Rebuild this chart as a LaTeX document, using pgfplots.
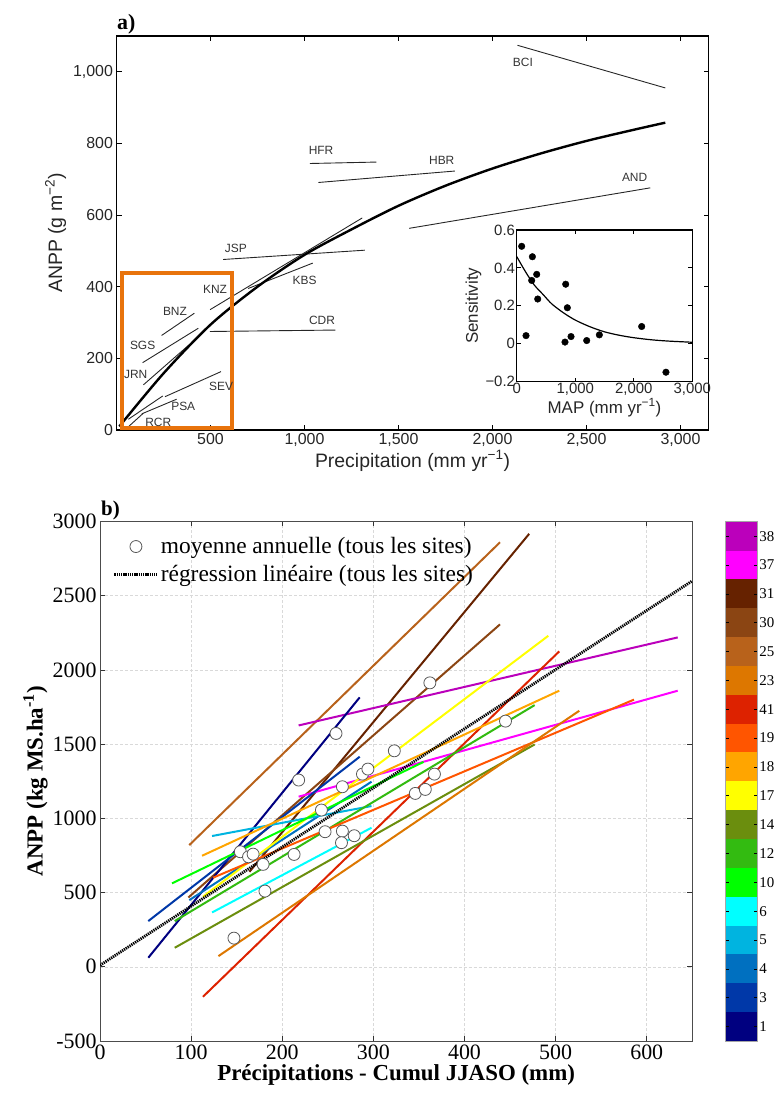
\documentclass[border=0pt]{standalone}
\usepackage{pgfplots}
\pgfplotsset{compat=1.18}
\usepackage{fontspec}
\setmainfont{Liberation Serif}
\newfontfamily\hv{Liberation Sans}
\definecolor{c1}{HTML}{000080}
\definecolor{c3}{HTML}{0038A8}
\definecolor{c4}{HTML}{0070C0}
\definecolor{c5}{HTML}{00B4E0}
\definecolor{c6}{HTML}{00FFFF}
\definecolor{c10}{HTML}{00FF00}
\definecolor{c12}{HTML}{33BB11}
\definecolor{c14}{HTML}{6B8E0E}
\definecolor{c17}{HTML}{FFFF00}
\definecolor{c18}{HTML}{FFA500}
\definecolor{c19}{HTML}{FF5500}
\definecolor{c41}{HTML}{DD2200}
\definecolor{c23}{HTML}{DD7700}
\definecolor{c25}{HTML}{B8621B}
\definecolor{c30}{HTML}{8B4513}
\definecolor{c31}{HTML}{662200}
\definecolor{c37}{HTML}{FF00FF}
\definecolor{c38}{HTML}{BB00BB}
\definecolor{orbox}{HTML}{E8730C}
\pgfplotsset{
  legline/.style={legend image code/.code={\draw[##1] (0bp,0bp) -- (43bp,0bp);}},
  legmark/.style={legend image code/.code={\draw[##1] plot coordinates {(21.5bp,0bp)};}},
}

\begin{document}
\begin{tikzpicture}
\useasboundingbox (0bp,0bp) rectangle (775bp,1097bp);

%================ Panel a =================
\begin{axis}[
  at={(116.5bp,667bp)}, anchor=south west, scale only axis,
  width=592.2bp, height=394bp,
  xmin=0, xmax=3150, ymin=0, ymax=1100,
  xtick={0,500,1000,1500,2000,2500,3000},
  xticklabels={{},500,{1,000},{1,500},{2,000},{2,500},{3,000}},
  ytick={0,200,400,600,800,1000},
  yticklabels={0,200,400,600,800,{1,000}},
  tick align=inside, major tick length=5bp,
  axis line style={line width=1.4bp},
  tick style={line width=1bp, black},
  ticklabel style={font=\hv\fontsize{16}{16}\selectfont, text=black!85},
  xlabel={Precipitation (mm yr\textsuperscript{−1})},
  ylabel={ANPP (g m\textsuperscript{−2})},
  label style={font=\hv\fontsize{19.5}{19.5}\selectfont, text=black!85},
  xlabel style={yshift=3bp},
  clip=false,
]
% site sensitivity lines
\addplot[black!85, line width=0.9bp] coordinates {(2133,1074)(2919,955)};
\addplot[black!85, line width=0.9bp] coordinates {(1028,744)(1382,748)};
\addplot[black!85, line width=0.9bp] coordinates {(1074,691)(1800,723)};
\addplot[black!85, line width=0.9bp] coordinates {(1557,563)(2839,676)};
\addplot[black!85, line width=0.9bp] coordinates {(567,476)(1321,502)};
\addplot[black!85, line width=0.9bp] coordinates {(498,336)(1307,592)};
\addplot[black!85, line width=0.9bp] coordinates {(700,395)(1044,466)};
\addplot[black!85, line width=0.9bp] coordinates {(497,275)(1164,279)};
\addplot[black!85, line width=0.9bp] coordinates {(240,264)(414,326)};
\addplot[black!85, line width=0.9bp] coordinates {(139,188)(435,284)};
\addplot[black!85, line width=0.9bp] coordinates {(143,126)(391,240)};
\addplot[black!85, line width=0.9bp] coordinates {(258,93)(556,163)};
\addplot[black!85, line width=0.9bp] coordinates {(134,45)(320,86)};
\addplot[black!85, line width=0.9bp] coordinates {(63,30)(246,95)};
\addplot[black!85, line width=0.9bp] coordinates {(63,9)(143,47)};
% overall curve
\addplot[black, line width=2.4bp, smooth] coordinates {
 (15,10)(250,158)(500,294)(750,400)(1000,489)(1250,560)(1500,626)
 (1750,682)(2000,730)(2250,771)(2500,807)(2750,838)(2919,858)};
% orange box
\addplot[orbox, line width=4bp, line cap=rect, line join=miter] coordinates {
 (27,6)(614,6)(614,438)(27,438)(27,6)};
% labels
\begin{scope}[every node/.style={font=\hv\fontsize{12}{12}\selectfont, inner sep=0pt, text=black!80}]
\node at (axis cs:2162,1027) {BCI};
\node at (axis cs:1088,781) {HFR};
\node at (axis cs:1730,754) {HBR};
\node at (axis cs:2756,704) {AND};
\node at (axis cs:635,506) {JSP};
\node at (axis cs:1001,417) {KBS};
\node at (axis cs:524,392) {KNZ};
\node at (axis cs:1093,306) {CDR};
\node at (axis cs:311,331) {BNZ};
\node at (axis cs:139,235) {SGS};
\node at (axis cs:102,154) {JRN};
\node at (axis cs:556,121) {SEV};
\node at (axis cs:355,67) {PSA};
\node at (axis cs:222,20) {RCR};
\end{scope}
\end{axis}
\node[anchor=base west, font=\bfseries\fontsize{22}{22}\selectfont, inner sep=0pt] at (117bp,1067bp) {a)};

% inset
\begin{axis}[
  at={(516.7bp,715.3bp)}, anchor=south west, scale only axis,
  width=175.6bp, height=151.7bp,
  xmin=0, xmax=3000, ymin=-0.2, ymax=0.6,
  xtick={0,1000,2000,3000}, xticklabels={0,{1,000},{2,000},{3,000}},
  ytick={-0.2,0,0.2,0.4,0.6}, yticklabels={−0.2,0,0.2,0.4,0.6},
  tick align=inside, major tick length=4bp,
  axis line style={line width=1.2bp},
  tick style={line width=0.9bp, black},
  axis background/.style={fill=white},
  ticklabel style={font=\hv\fontsize{15}{15}\selectfont, text=black!85, inner sep=1.5bp},
  xlabel={MAP (mm yr\textsuperscript{−1})},
  ylabel={Sensitivity},
  label style={font=\hv\fontsize{17}{17}\selectfont, text=black!85},
  xlabel style={yshift=2bp}, ylabel style={yshift=-1bp},
]
\addplot[only marks, mark=*, mark size=3.3bp, black] coordinates {
 (85,0.514)(159,0.043)(268,0.459)(256,0.334)(342,0.366)(359,0.236)
 (837,0.314)(865,0.190)(825,0.009)(928,0.038)(1196,0.017)(1412,0.047)
 (2135,0.091)(2550,-0.15)};
\addplot[black, line width=1.2bp, smooth] coordinates {
 (0,0.46)(150,0.38)(300,0.31)(450,0.26)(600,0.21)(800,0.163)(1000,0.125)
 (1250,0.09)(1500,0.063)(1750,0.045)(2000,0.032)(2300,0.021)(2600,0.014)(3000,0.008)};
\end{axis}

%================ Panel b =================
\begin{axis}[
  at={(100bp,56bp)}, anchor=south west, scale only axis,
  width=592.3bp, height=519.5bp,
  xmin=0, xmax=650, ymin=-500, ymax=3000,
  xtick={0,100,200,300,400,500,600},
  ytick={-500,0,500,1000,1500,2000,2500,3000},
  xticklabels={0,100,200,300,400,500,600},
  yticklabels={-500,0,500,1000,1500,2000,2500,3000},
  grid=major, grid style={densely dashed, gray!30, line width=0.5bp},
  axis line style={gray!60!black, line width=0.7bp},
  tick align=inside, major tick length=5bp,
  tick style={black!80, line width=0.6bp},
  ticklabel style={font=\fontsize{22}{22}\selectfont},
  xlabel={Précipitations - Cumul JJASO (mm)},
  ylabel={ANPP (kg MS.ha\textsuperscript{-1})},
  label style={font=\bfseries\fontsize{23}{23}\selectfont},
  xlabel style={yshift=2bp}, ylabel style={yshift=-2bp},
  legend style={at={(axis description cs:0.02,0.975)}, anchor=north west,
    draw=none, fill=none, font=\fontsize{23.5}{23.5}\selectfont, row sep=6bp,
    inner sep=1bp},
  legend cell align=left, reverse legend,
]
\addplot[c25, line width=2bp, forget plot] coordinates {(98,820)(439,2860)};
\addplot[c31, line width=2bp, forget plot] coordinates {(164,640)(471,2917)};
\addplot[c30, line width=2bp, forget plot] coordinates {(97,467)(439,2307)};
\addplot[c38, line width=2bp, forget plot] coordinates {(218,1626)(634,2219)};
\addplot[c37, line width=2bp, forget plot] coordinates {(218,1146)(634,1860)};
\addplot[c1, line width=2bp, forget plot] coordinates {(53,61)(285,1815)};
\addplot[c3, line width=2bp, forget plot] coordinates {(53,308)(285,1415)};
\addplot[c4, line width=2bp, forget plot] coordinates {(98,449)(298,1247)};
\addplot[c5, line width=2bp, forget plot] coordinates {(123,881)(298,1083)};
\addplot[c6, line width=2bp, forget plot] coordinates {(123,366)(298,937)};
\addplot[c17, line width=2bp, forget plot] coordinates {(113,472)(492,2230)};
\addplot[c41, line width=2bp, forget plot] coordinates {(113,-202)(504,2125)};
\addplot[c18, line width=2bp, forget plot] coordinates {(112,748)(504,1860)};
\addplot[c10, line width=2bp, forget plot] coordinates {(79,562)(355,1380)};
\addplot[c12, line width=2bp, forget plot] coordinates {(82,308)(477,1763)};
\addplot[c14, line width=2bp, forget plot] coordinates {(82,128)(477,1498)};
\addplot[c19, line width=2bp, forget plot] coordinates {(124,600)(586,1800)};
\addplot[c23, line width=2bp, forget plot] coordinates {(130,72)(526,1725)};
% overall regression
\addplot[black, line width=2.8bp, dash pattern=on 1.3bp off 0.9bp, legline]
  coordinates {(0,10)(650,2600)};
\addlegendentry{régression linéaire (tous les sites)}
% annual means
\addplot[only marks, mark=*, mark size=6bp, mark options={fill=white, draw=black!65, line width=0.8bp}, legmark]
  coordinates {
 (147,193)(181,510)(154,775)(163,741)(168,759)(179,690)(213,757)(218,1258)
 (259,1572)(243,1056)(247,910)(266,1213)(266,914)(265,836)(279,883)(288,1298)
 (294,1332)(362,1913)(323,1455)(445,1655)(367,1298)(346,1168)(357,1195)};
\addlegendentry{moyenne annuelle (tous les sites)}
\end{axis}
\node[anchor=base west, font=\bfseries\fontsize{21}{21}\selectfont, inner sep=0pt] at (101bp,581bp) {b)};

% colour bar
\begin{axis}[
  at={(725bp,56bp)}, anchor=south west, scale only axis,
  width=32.7bp, height=519.3bp,
  xmin=0, xmax=1, ymin=0.5, ymax=18.5,
  xtick=\empty, ytick={1,...,18},
  yticklabels={1,3,4,5,6,10,12,14,17,18,19,41,23,25,30,31,37,38},
  yticklabel pos=right, ytick pos=both,
  tick align=inside, major tick length=4bp,
  axis line style={gray!70, line width=0.6bp},
  tick style={black, line width=0.6bp},
  ticklabel style={font=\fontsize{15}{15}\selectfont, inner sep=1.5bp},
  axis on top,
]
\addplot[fill=c1, draw=none] coordinates {(0,0.5)(1,0.5)(1,1.5)(0,1.5)};
\addplot[fill=c3, draw=none] coordinates {(0,1.5)(1,1.5)(1,2.5)(0,2.5)};
\addplot[fill=c4, draw=none] coordinates {(0,2.5)(1,2.5)(1,3.5)(0,3.5)};
\addplot[fill=c5, draw=none] coordinates {(0,3.5)(1,3.5)(1,4.5)(0,4.5)};
\addplot[fill=c6, draw=none] coordinates {(0,4.5)(1,4.5)(1,5.5)(0,5.5)};
\addplot[fill=c10, draw=none] coordinates {(0,5.5)(1,5.5)(1,6.5)(0,6.5)};
\addplot[fill=c12, draw=none] coordinates {(0,6.5)(1,6.5)(1,7.5)(0,7.5)};
\addplot[fill=c14, draw=none] coordinates {(0,7.5)(1,7.5)(1,8.5)(0,8.5)};
\addplot[fill=c17, draw=none] coordinates {(0,8.5)(1,8.5)(1,9.5)(0,9.5)};
\addplot[fill=c18, draw=none] coordinates {(0,9.5)(1,9.5)(1,10.5)(0,10.5)};
\addplot[fill=c19, draw=none] coordinates {(0,10.5)(1,10.5)(1,11.5)(0,11.5)};
\addplot[fill=c41, draw=none] coordinates {(0,11.5)(1,11.5)(1,12.5)(0,12.5)};
\addplot[fill=c23, draw=none] coordinates {(0,12.5)(1,12.5)(1,13.5)(0,13.5)};
\addplot[fill=c25, draw=none] coordinates {(0,13.5)(1,13.5)(1,14.5)(0,14.5)};
\addplot[fill=c30, draw=none] coordinates {(0,14.5)(1,14.5)(1,15.5)(0,15.5)};
\addplot[fill=c31, draw=none] coordinates {(0,15.5)(1,15.5)(1,16.5)(0,16.5)};
\addplot[fill=c37, draw=none] coordinates {(0,16.5)(1,16.5)(1,17.5)(0,17.5)};
\addplot[fill=c38, draw=none] coordinates {(0,17.5)(1,17.5)(1,18.5)(0,18.5)};
\end{axis}
\end{tikzpicture}
\end{document}
